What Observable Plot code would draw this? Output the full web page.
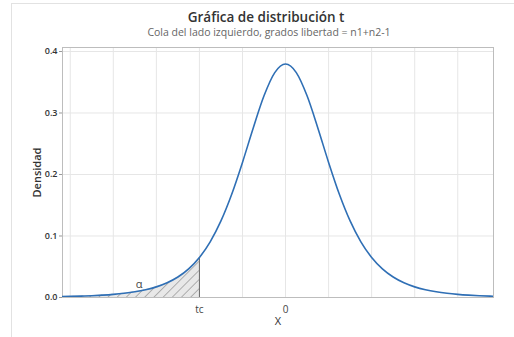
<!DOCTYPE html>
<html>
<head>
<meta charset="utf-8">
<script src="https://cdn.jsdelivr.net/npm/d3@7"></script>
<script src="https://cdn.jsdelivr.net/npm/@observablehq/plot@0.6"></script>
<style>
  html, body { margin: 0; padding: 0; background: #fff; }
  #chart { position: relative; width: 514px; height: 337px; overflow: hidden; font-family: "Open Sans", "Noto Sans", sans-serif; }
  #panel { position: absolute; left: 11px; top: 3px; width: 600px; height: 400px; border-left: 1px solid #e2e2e2; border-top: 1px solid #e2e2e2; }
  #title { position: absolute; left: 0; width: 532px; top: 8px; text-align: center; font-size: 13.5px; font-weight: 600; color: #333; }
  #subtitle { position: absolute; left: 0; width: 538px; top: 25px; text-align: center; font-size: 10.5px; color: #666; }
  #chart svg { position: absolute; left: 0; top: 0; }
</style>
</head>
<body>
<div id="chart">
  <div id="panel"></div>
  <div id="title">Gráfica de distribución t</div>
  <div id="subtitle">Cola del lado izquierdo, grados libertad = n1+n2-1</div>
</div>
<script>
// Density of the t distribution (5 degrees of freedom) sampled along X
const xs = [-5.25, -5, -4.75, -4.5, -4.25, -4, -3.75, -3.5, -3.25, -3, -2.75, -2.5, -2.25, -2,
  -1.75, -1.5, -1.25, -1, -0.75, -0.5, -0.25, 0, 0.25, 0.5, 0.75, 1, 1.25, 1.5, 1.75, 2,
  2.25, 2.5, 2.75, 3, 3.25, 3.5, 3.75, 4, 4.25, 4.5, 4.75, 5];
const densities = [0.00136, 0.00176, 0.00227, 0.00295, 0.00387, 0.00512, 0.00685, 0.00924, 0.01259, 0.01729,
  0.02393, 0.03333, 0.04657, 0.06509, 0.09054, 0.12452, 0.16789, 0.21968, 0.27570, 0.32792,
  0.36572, 0.37961, 0.36572, 0.32792, 0.27570, 0.21968, 0.16789, 0.12452, 0.09054, 0.06509,
  0.04657, 0.03333, 0.02393, 0.01729, 0.01259, 0.00924, 0.00685, 0.00512, 0.00387, 0.00295,
  0.00227, 0.00176];

// Critical value and axis labels
const tc = -2;
const xTickValues = [tc, 0];
const xTickLabels = ["tc", "0"];
const yTicks = [0, 0.1, 0.2, 0.3, 0.4];
const xGrid = [-5, -4, -3, -2, -1, 0, 1, 2, 3, 4];
const alphaLabel = [{x: -3.4, y: 0.021, text: "α"}];

const curve = xs.map((x, i) => ({x, y: densities[i]}));
const tail = curve.filter(d => d.x <= tc);

const plot = Plot.plot({
  width: 514,
  height: 337,
  marginLeft: 62,
  marginRight: 21,
  marginTop: 47,
  marginBottom: 40,
  style: {fontFamily: "'Open Sans', 'Noto Sans', sans-serif", background: "transparent", color: "#333"},
  x: {domain: [-5.18, 4.83]},
  y: {domain: [0, 0.4065]},
  marks: [
    Plot.gridX(xGrid, {stroke: "#e6e6e6", strokeOpacity: 1}),
    Plot.gridY([0.1, 0.2, 0.3, 0.4], {stroke: "#e6e6e6", strokeOpacity: 1}),
    Plot.areaY(tail, {x: "x", y: "y", curve: "monotone-x", fill: "url(#hatch)", clip: true}),
    Plot.ruleX([tc], {y1: 0, y2: tail[tail.length - 1].y, stroke: "#666", strokeWidth: 1}),
    Plot.frame({stroke: "#bdbdbd"}),
    Plot.lineY(curve, {x: "x", y: "y", curve: "monotone-x", stroke: "#2f6fb5", strokeWidth: 1.6, clip: true}),
    Plot.text(alphaLabel, {x: "x", y: "y", text: "text", fontSize: 11, fill: "#444"}),
    Plot.axisY({ticks: yTicks, tickFormat: d3.format(".1f"), tickSize: 3, tickPadding: 2,
      stroke: "#999", fontSize: 9, fontWeight: 600, fill: "#333",
      label: "Densidad", labelAnchor: "center", labelArrow: false, labelOffset: 29}),
    Plot.axisX({ticks: xTickValues, tickFormat: (d, i) => xTickLabels[i], tickSize: 0, tickPadding: 8,
      fontSize: 10, fill: "#444",
      label: "X", labelAnchor: "center", labelArrow: false, labelOffset: 27})
  ]
});

// Diagonal hatch pattern for the shaded left tail
const svg = d3.select(plot);
const defs = svg.insert("defs", ":first-child");
const pat = defs.append("pattern")
  .attr("id", "hatch")
  .attr("patternUnits", "userSpaceOnUse")
  .attr("width", 6.5).attr("height", 6.5)
  .attr("patternTransform", "rotate(45)");
pat.append("rect").attr("width", 6.5).attr("height", 6.5).attr("fill", "#e8e8e8");
pat.append("line").attr("x1", 0).attr("y1", 0).attr("x2", 0).attr("y2", 6.5)
  .attr("stroke", "#666").attr("stroke-width", 0.9);

// Axis label styling
svg.selectAll("[aria-label='y-axis label'] text, [aria-label='x-axis label'] text")
  .attr("font-size", 11).attr("fill", "#333");
svg.selectAll("[aria-label='y-axis label'] text").attr("font-weight", 600);

document.getElementById("chart").appendChild(plot);
</script>
</body>
</html>
